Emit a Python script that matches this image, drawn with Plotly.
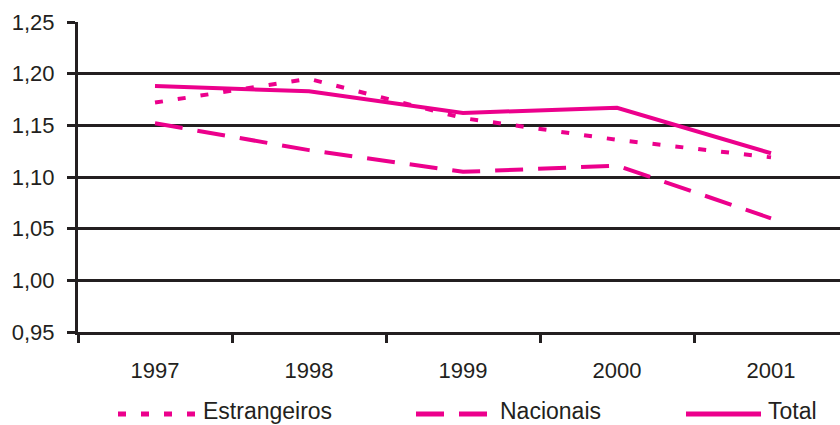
import plotly.graph_objects as go

# Anos e índices por origem do capital
anos = ["1997", "1998", "1999", "2000", "2001"]
estrangeiros = [1.172, 1.195, 1.157, 1.136, 1.119]
nacionais = [1.152, 1.126, 1.105, 1.111, 1.060]
total = [1.188, 1.183, 1.162, 1.167, 1.123]
y_ticks = [0.95, 1.00, 1.05, 1.10, 1.15, 1.20, 1.25]

ROSA = "#ec008c"
TINTA = "#231f20"
FONTE = "Liberation Sans, Arial, sans-serif"

W, H = 840, 425
M_L, M_R, M_T, M_B = 78, 0, 22, 93
plot_w = W - M_L - M_R
plot_h = H - M_T - M_B

series = [
    ("Estrangeiros", estrangeiros, "8px,15px"),
    ("Nacionais", nacionais, "28px,15px"),
    ("Total", total, "solid"),
]

fig = go.Figure()
for nome, valores, traco in series:
    fig.add_trace(go.Scatter(
        x=anos, y=valores, mode="lines", name=nome,
        line=dict(color=ROSA, width=4, dash=traco),
        showlegend=False,
    ))

# Legenda desenhada à mão: amostras de linha longas
def px_x(p):
    return (p - M_L) / plot_w

def px_y(p):
    return (M_T + plot_h - p) / plot_h

legenda = [
    ("Estrangeiros", "8px,15px", 118, 197, 201),
    ("Nacionais", "28px,15px", 416, 488, 498),
    ("Total", "solid", 686, 761, 766),
]
ly_linha = 414
ly_texto = 411
for nome, traco, x0, x1, xt in legenda:
    fig.add_shape(type="line", xref="paper", yref="paper",
                  x0=px_x(x0), x1=px_x(x1), y0=px_y(ly_linha), y1=px_y(ly_linha),
                  line=dict(color=ROSA, width=5, dash=traco))
    fig.add_annotation(xref="paper", yref="paper", x=px_x(xt), y=px_y(ly_texto),
                       text=nome, showarrow=False, xanchor="left", yanchor="middle",
                       font=dict(family=FONTE, size=23, color=TINTA))

fig.update_layout(
    width=W, height=H,
    margin=dict(l=M_L, r=M_R, t=M_T, b=M_B, pad=0),
    paper_bgcolor="white", plot_bgcolor="white",
    separators=",.",
    font=dict(family=FONTE, size=22, color=TINTA),
    xaxis=dict(
        type="category", range=[-0.5, 4.448],
        tickson="boundaries", ticks="outside", ticklen=8, tickwidth=3, tickcolor=TINTA,
        showgrid=False, showline=True, linewidth=3, linecolor=TINTA,
        ticklabelstandoff=17, zeroline=False,
    ),
    yaxis=dict(
        range=[0.95, 1.25], tickvals=y_ticks, tickformat=".2f",
        ticks="outside", ticklen=8, tickwidth=3, tickcolor=TINTA,
        showgrid=True, gridcolor=TINTA, gridwidth=3,
        showline=True, linewidth=3, linecolor=TINTA,
        ticklabelstandoff=8, zeroline=False,
    ),
)

fig.write_html("out.html")
